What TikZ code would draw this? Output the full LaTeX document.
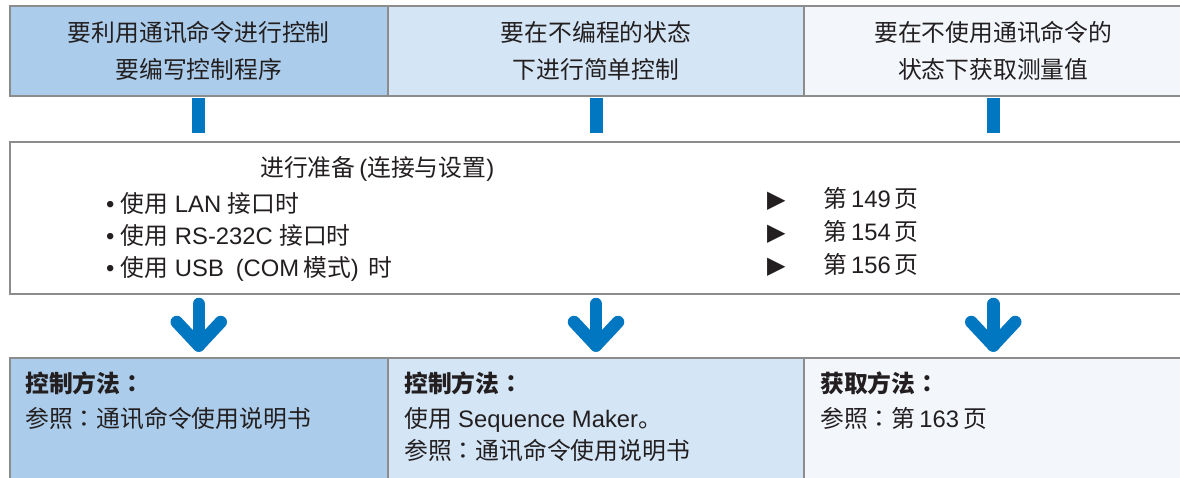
\documentclass[tikz,border=0pt]{standalone}
\usepackage{fontspec}
\setmainfont{Noto Sans CJK SC}
\newfontfamily\arial{Liberation Sans}
\newfontfamily\djv{DejaVu Sans}
\newfontfamily\jpf{Noto Sans CJK JP}
\newcommand\lat[1]{{\arial #1}}
\newcommand\gp{\hspace{0.17em}}
\newcommand\gq{\hspace{0.27em}}
\newcommand\colo{{\jpf ：}}
\usetikzlibrary{calc}
\definecolor{bA}{HTML}{ABCDEB}
\definecolor{bB}{HTML}{D4E5F5}
\definecolor{bC}{HTML}{F3F7FB}
\definecolor{blu}{HTML}{0077C0}
\definecolor{gry}{HTML}{8C8C8C}
\definecolor{ink}{HTML}{231F20}
\begin{document}
\begin{tikzpicture}[x=1pt,y=-1pt,
  box/.style={draw=gry, line width=2pt, anchor=north west, inner sep=0pt, text=ink},
  toptxt/.style={align=center, font=\fontsize{23.8}{36.5}\selectfont},
  txt/.style={anchor=base west, inner sep=0pt, text=ink, font=\fontsize{23.8}{28}\selectfont},
  btxt/.style={txt, font=\fontsize{23.8}{28}\selectfont\bfseries},
  tri/.style={anchor=base west, inner sep=0pt, text=ink, font=\djv\fontsize{24}{28}\selectfont},
  bar/.style={draw=blu, line width=13pt},
  arr/.style={draw=blu, line width=12.5pt, line cap=round, line join=round}]
\path[use as bounding box] (0,0) rectangle (1180,477);
\clip (0,0) rectangle (1180,477);
\fill[white] (0,0) rectangle (1180,477);

% top boxes
\node[box, fill=bA, toptxt, minimum width=378.5pt, minimum height=89.5pt] (t1) at (8.5,5) {要利用通讯命令进行控制\\要编写控制程序};
\node[box, fill=bB, toptxt, minimum width=416pt, minimum height=89.5pt] (t2) at (387,5) {要在不编程的状态\\下进行简单控制};
\node[box, fill=bC, toptxt, minimum width=378.5pt, minimum height=89.5pt] (t3) at (803,5) {要在不使用通讯命令的\\状态下获取测量值};

% middle box
\node[box, fill=white, minimum width=1180pt, minimum height=152.5pt] (mid) at (8.5,140.5) {};

% bottom boxes
\node[box, fill=bA, minimum width=378.5pt, minimum height=140pt] (b1) at (8.5,356.5) {};
\node[box, fill=bB, minimum width=416pt, minimum height=140pt] (b2) at (387,356.5) {};
\node[box, fill=bC, minimum width=378.5pt, minimum height=140pt] (b3) at (803,356.5) {};

% bars
\foreach \n in {1,2,3}{
  \draw[bar, shorten <=1pt, shorten >=7.5pt] (t\n.south) -- (t\n.south |- mid.north);
}
% arrows
\foreach \n in {1,2,3}{
  \draw[arr, shorten <=9pt, shorten >=11pt] (b\n.north |- mid.south) -- (b\n.north);
  \draw[arr] ($(b\n.north)+(-22,-34.5)$) -- ($(b\n.north)+(0,-11)$) -- ($(b\n.north)+(22,-34.5)$);
}

% middle text
\node[txt] (hd) at (260,176.5) {进行准备\gp\lat{(}连接与设置\lat{)}};
\node[txt] (l1) at (106,212) {\lat{•}\gq 使用\gq\lat{LAN}\gq 接口时};
\node[txt] (l2) at (106,244) {\lat{•}\gq 使用\gq\lat{RS-232C}\gq 接口时};
\node[txt] (l3) at (106,276) {\lat{•}\gq 使用\gq\lat{USB}\hspace{0.5em}\lat{(COM}\gp 模式\lat{)}\hspace{0.4em}时};

\node[tri] (r1) at (767,207) {▶};
\node[tri] (r2) at (767,240) {▶};
\node[tri] (r3) at (767,273) {▶};
\node[txt] (p1) at (823,207) {第\gp\lat{149}\gp 页};
\node[txt] (p2) at (823,240) {第\gp\lat{154}\gp 页};
\node[txt] (p3) at (823,273) {第\gp\lat{156}\gp 页};

% bottom text
\node[btxt] (c1) at (25,392) {控制方法\colo};
\node[txt] (c1a) at (25,427) {参照\colo 通讯命令使用说明书};
\node[btxt] (c2) at (404,392) {控制方法\colo};
\node[txt] (c2a) at (404,427) {使用\gq\lat{Sequence Maker}。};
\node[txt] (c2b) at (404,459) {参照\colo 通讯命令使用说明书};
\node[btxt] (c3) at (820,392) {获取方法\colo};
\node[txt] (c3a) at (820,427) {参照\colo 第\gp\lat{163}\gp 页};
\end{tikzpicture}
\end{document}
